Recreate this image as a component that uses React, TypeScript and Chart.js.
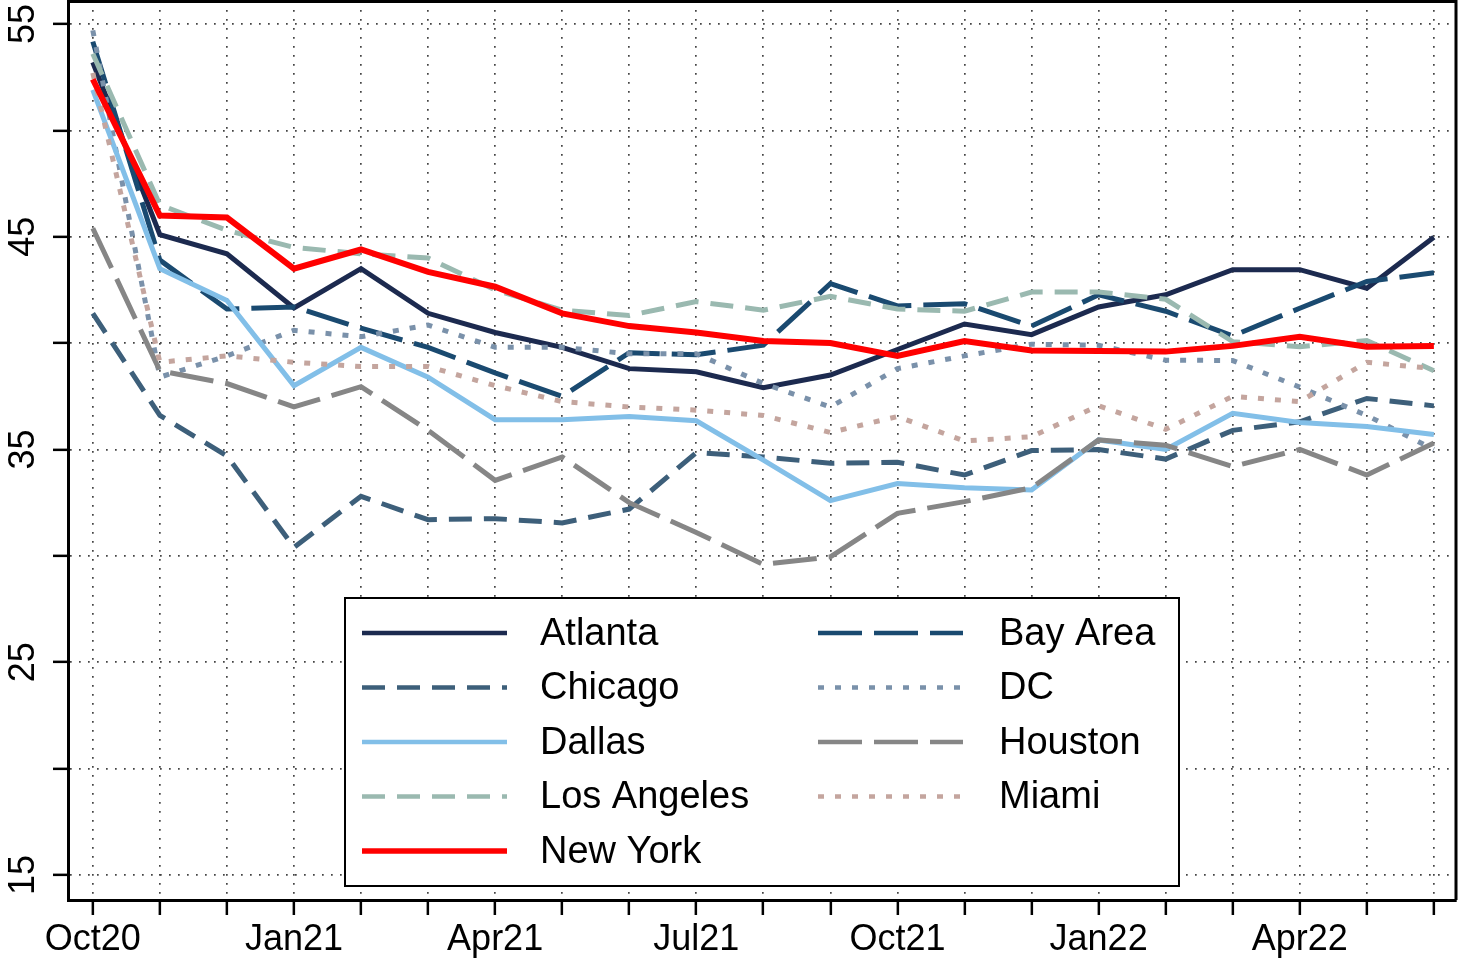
import React, { useEffect, useRef } from 'react';
import { Chart, registerables } from 'chart.js';

Chart.register(...registerables);

const FONT = "'Liberation Sans', Arial, Helvetica, sans-serif";

const months = [
  'Oct20', 'Nov20', 'Dec20', 'Jan21', 'Feb21', 'Mar21', 'Apr21', 'May21', 'Jun21', 'Jul21', 'Aug21',
  'Sep21', 'Oct21', 'Nov21', 'Dec21', 'Jan22', 'Feb22', 'Mar22', 'Apr22', 'May22', 'Jun22',
];

const atlanta = [53.2, 45.1, 44.2, 41.65, 43.5, 41.4, 40.5, 39.8, 38.8, 38.65, 37.9, 38.5, 39.7, 40.9, 40.4, 41.7, 42.27, 43.45, 43.45, 42.58, 44.98];
const bayArea = [54.17, 43.9, 41.6, 41.7, 40.7, 39.8, 38.6, 37.5, 39.55, 39.45, 39.9, 42.8, 41.75, 41.85, 40.8, 42.27, 41.5, 40.34, 41.64, 42.9, 43.31];
const chicago = [41.4, 36.6, 34.7, 30.4, 32.8, 31.7, 31.75, 31.55, 32.2, 34.85, 34.65, 34.35, 34.4, 33.8, 34.95, 35.0, 34.55, 35.9, 36.3, 37.4, 37.05];
const dc = [54.7, 38.4, 39.4, 40.6, 40.3, 40.85, 39.8, 39.8, 39.5, 39.5, 38.1, 37.0, 38.8, 39.4, 39.95, 39.9, 39.2, 39.18, 37.93, 36.6, 35.0];
const dallas = [51.9, 43.5, 42.0, 38.0, 39.8, 38.4, 36.4, 36.4, 36.55, 36.35, 34.5, 32.6, 33.4, 33.2, 33.1, 35.45, 35.0, 36.7, 36.27, 36.08, 35.7];
const houston = [45.4, 38.7, 38.1, 37.0, 37.95, 35.9, 33.55, 34.65, 32.5, 31.1, 29.6, 29.95, 32.0, 32.55, 33.2, 35.45, 35.2, 34.2, 35.0, 33.8, 35.3];
const losAngeles = [53.6, 46.5, 45.3, 44.5, 44.2, 44.0, 42.5, 41.55, 41.3, 41.95, 41.55, 42.2, 41.6, 41.5, 42.4, 42.4, 42.06, 40.07, 39.83, 40.12, 38.7];
const miami = [52.7, 39.1, 39.4, 39.1, 38.9, 38.9, 38.0, 37.25, 37.0, 36.85, 36.6, 35.8, 36.55, 35.4, 35.6, 37.06, 35.95, 37.5, 37.25, 39.1, 38.8];
const newYork = [52.4, 46.0, 45.9, 43.5, 44.4, 43.35, 42.65, 41.4, 40.8, 40.5, 40.1, 40.0, 39.4, 40.1, 39.65, 39.63, 39.6, 39.87, 40.3, 39.83, 39.87];

const yTickValues = [15, 20, 25, 30, 35, 40, 45, 50, 55];
const yLabelValues = [15, 25, 35, 45, 55];
const xLabelEvery = 3;

const seriesLabels = ['Atlanta', 'Bay Area', 'Chicago', 'DC', 'Dallas', 'Houston', 'Los Angeles', 'Miami', 'New York'];
const seriesValues = [atlanta, bayArea, chicago, dc, dallas, houston, losAngeles, miami, newYork];

const seriesStyles = [
  { color: '#1c2a4f', dash: [] as number[], width: 5 },
  { color: '#1a4a70', dash: [44, 12], width: 5 },
  { color: '#3d5f7a', dash: [23, 12], width: 5 },
  { color: '#7a91aa', dash: [6, 11], width: 5 },
  { color: '#82bfe8', dash: [] as number[], width: 5 },
  { color: '#868686', dash: [44, 12], width: 5 },
  { color: '#9ab9b0', dash: [23, 12], width: 5 },
  { color: '#c4a59e', dash: [6, 11], width: 5 },
  { color: '#ff0000', dash: [] as number[], width: 6 },
];

const framePlugin = {
  id: 'frame',
  afterDraw(chart: any) {
    const { ctx, chartArea: ca } = chart;
    ctx.save();
    ctx.setLineDash([]);
    ctx.strokeStyle = '#000';
    ctx.lineWidth = 3;
    ctx.beginPath();
    ctx.moveTo(ca.left, ca.top + 0.5);
    ctx.lineTo(ca.right, ca.top + 0.5);
    ctx.lineTo(ca.right, ca.bottom);
    ctx.stroke();
    ctx.restore();
  },
};

const legendPlugin = {
  id: 'boxLegend',
  afterDraw(chart: any) {
    const ctx = chart.ctx;
    ctx.save();
    const bx = 345, by = 598, bw = 834, bh = 288;
    ctx.fillStyle = '#ffffff';
    ctx.fillRect(bx, by, bw, bh);
    ctx.setLineDash([]);
    ctx.lineWidth = 2;
    ctx.strokeStyle = '#000';
    ctx.strokeRect(bx, by, bw, bh);
    chart.data.datasets.forEach((ds: any, i: number) => {
      const col = i % 2;
      const row = Math.floor(i / 2);
      const lx = col === 0 ? 362 : 818;
      const tx = col === 0 ? 540 : 999;
      const y = 633 + row * 54.5;
      ctx.beginPath();
      ctx.setLineDash(ds.borderDash || []);
      ctx.lineCap = 'butt';
      ctx.strokeStyle = ds.borderColor;
      ctx.lineWidth = ds.borderWidth - 0.5;
      ctx.moveTo(lx, y);
      ctx.lineTo(lx + 145, y);
      ctx.stroke();
      ctx.setLineDash([]);
      ctx.fillStyle = '#000';
      ctx.font = `38px ${FONT}`;
      ctx.textBaseline = 'middle';
      ctx.textAlign = 'left';
      ctx.fillText(ds.label, tx, y + 1.5);
    });
    ctx.restore();
  },
};

export default function App() {
  const canvasRef = useRef<HTMLCanvasElement | null>(null);

  useEffect(() => {
    if (!canvasRef.current) return;
    const n = seriesLabels.length;
    const datasets = seriesLabels.map((label, i) => ({
      label,
      data: seriesValues[i].map((v, j) => ({ x: j, y: v })),
      borderColor: seriesStyles[i].color,
      backgroundColor: seriesStyles[i].color,
      borderWidth: seriesStyles[i].width,
      borderDash: seriesStyles[i].dash,
      borderCapStyle: 'butt' as const,
      borderJoinStyle: 'miter' as const,
      pointRadius: 0,
      tension: 0,
      fill: false,
      order: n - i,
    }));

    const gridCommon = {
      color: '#444',
      lineWidth: 1.7,
      tickLength: 15,
      tickColor: '#000',
      tickWidth: 2.5,
      tickBorderDash: [],
    };
    const borderCommon = { color: '#000', width: 3, dash: [1.7, 7.3] };

    const chart = new Chart(canvasRef.current, {
      type: 'line',
      data: { datasets },
      plugins: [framePlugin, legendPlugin],
      options: {
        animation: false,
        responsive: false,
        maintainAspectRatio: false,
        layout: { padding: { top: 1, right: 5, left: 0, bottom: 0 } },
        plugins: { legend: { display: false }, tooltip: { enabled: false } },
        scales: {
          x: {
            type: 'linear',
            min: -0.37,
            max: 20.33,
            afterBuildTicks: (s: any) => {
              s.ticks = months.map((_, i) => ({ value: i }));
            },
            afterFit: (s: any) => {
              s.height = 60;
              s.paddingLeft = 0;
              s.paddingRight = 0;
            },
            ticks: {
              autoSkip: false,
              maxRotation: 0,
              minRotation: 0,
              padding: 3,
              color: '#000',
              font: { family: FONT, size: 36, lineHeight: 1.2 },
              callback: (v: any) => {
                const i = Math.round(Number(v));
                return i % xLabelEvery === 0 ? months[i] : '';
              },
            },
            grid: gridCommon,
            border: borderCommon,
          },
          y: {
            type: 'linear',
            min: 13.825,
            max: 56.08,
            afterBuildTicks: (s: any) => {
              s.ticks = yTickValues.map((v) => ({ value: v }));
            },
            afterFit: (s: any) => {
              s.width = 68;
              s.paddingTop = 0;
              s.paddingBottom = 0;
            },
            ticks: {
              autoSkip: false,
              minRotation: 90,
              maxRotation: 90,
              crossAlign: 'center',
              padding: 9,
              color: '#000',
              font: { family: FONT, size: 36 },
              callback: (v: any) => (yLabelValues.includes(Number(v)) ? String(v) : ''),
            },
            grid: gridCommon,
            border: borderCommon,
          },
        },
      } as any,
    });
    return () => chart.destroy();
  }, []);

  return (
    <div style={{ position: 'fixed', left: 0, top: 0, width: 1461, height: 960, background: '#fff' }}>
      <canvas ref={canvasRef} width={1461} height={960} style={{ display: 'block' }} />
    </div>
  );
}
